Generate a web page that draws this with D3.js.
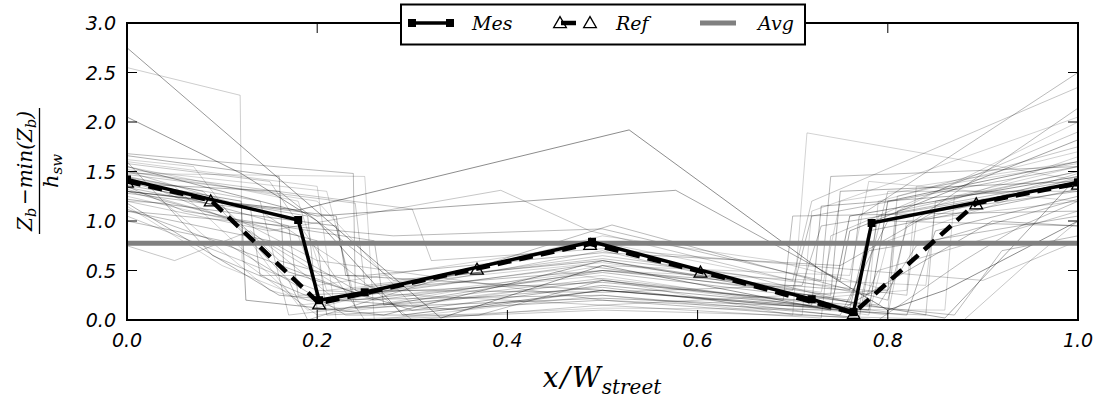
<!DOCTYPE html>
<html><head><meta charset="utf-8">
<script src="https://cdn.jsdelivr.net/npm/d3@7"></script>
<style>html,body{margin:0;padding:0;background:#fff;}svg{display:block;}
.math{font-family:"DejaVu Serif",serif;font-style:italic;}</style>
</head><body>
<svg id="chart" width="1102" height="399"></svg>
<script>
// ---- data ----
const xTicks = [0, 0.2, 0.4, 0.6, 0.8, 1.0];
const yTicks = [0, 0.5, 1.0, 1.5, 2.0, 2.5, 3.0];
const mesX = [0, 0.18, 0.202, 0.25, 0.489, 0.72, 0.764, 0.783, 1.0];
const mesY = [1.42, 1.01, 0.2, 0.28, 0.79, 0.21, 0.08, 0.98, 1.39];
const refX = [0, 0.088, 0.202, 0.368, 0.487, 0.603, 0.764, 0.893, 1.0];
const refY = [1.40, 1.21, 0.17, 0.52, 0.77, 0.49, 0.07, 1.18, 1.38];
const avgValue = 0.775;
const legendLabels = ["Mes", "Ref", "Avg"];
const profiles = [
  [[0,2.75],[0.33,0.02],[0.5,0.55],[0.74,0.1],[0.76,1.05],[1,1.45]],
  [[0,2.55],[0.119,2.27],[0.121,0.6],[0.2,0.05],[0.5,0.4],[0.8,0.05],[0.82,1.0],[1,1.2]],
  [[0,2.05],[0.12,1.48],[0.2,1.0],[0.29,0.05],[0.5,0.3],[0.78,0.1],[0.8,1.2],[1,1.6]],
  [[0,1.68],[0.238,1.48],[0.24,0.3],[0.5,0.5],[0.76,0.3],[0.77,1.05],[1,2.5]],
  [[0,1.66],[0.16,1.45],[0.165,0.5],[0.3,0.1],[0.5,0.35],[0.72,0.15],[0.73,1.15],[1,1.35]],
  [[0,1.3],[0.18,1.11],[0.528,1.92],[0.73,0.5],[0.8,0.1],[0.86,0.3],[1,1.0]],
  [[0,1.2],[0.15,0.9],[0.393,1.31],[0.487,0.9],[0.7,0.4],[0.72,1.2],[1,2.35]],
  [[0,1.55],[0.1,1.3],[0.2,1.05],[0.577,1.31],[0.75,0.4],[0.76,0.9],[1,1.82]],
  [[0,1.45],[0.08,1.3],[0.17,0.4],[0.19,0.0],[0.51,0.96],[0.8,0.2],[0.82,0.95],[1,2.14]],
  [[0,0.75],[0.05,0.6],[0.13,0.9],[0.22,0.2],[0.5,0.7],[0.77,0.1],[0.79,0.5],[1,1.1]],
  [[0,1.15],[0.1,0.55],[0.19,0.2],[0.45,0.5],[0.7,0.05],[0.715,1.89],[1,1.41]],
  [[0,1.6],[0.09,0.65],[0.2,0.2],[0.5,0.25],[0.75,0.05],[0.8,1.0],[1,0.95]],
  [[0,1.4],[0.12,1.2],[0.125,0.2],[0.27,0.05],[0.5,0.6],[0.86,0.02],[0.935,0.78],[1,1.45]],
  [[0,1.3],[0.2,0.8],[0.21,0.05],[0.5,0.2],[0.79,0.0],[0.88,0.6],[0.94,0.95],[1,1.2]],
  [[0,1.5],[0.14,1.1],[0.22,0.6],[0.3,0.0],[0.5,0.15],[0.73,0.02],[0.74,0.85],[1,1.9]],
  [[0,1.35],[0.06,1.1],[0.26,0.8],[0.27,0.15],[0.5,0.5],[0.7,0.3],[0.72,1.05],[1,1.55]],
  [[0,1.25],[0.18,0.85],[0.2,0.35],[0.5,0.78],[0.78,0.25],[0.79,1.2],[1,1.7]],
  [[0,1.18],[0.16,0.25],[0.35,0.1],[0.5,0.3],[0.82,0.05],[0.85,0.9],[1,1.25]],
  [[0,1.45],[0.11,1.0],[0.23,0.3],[0.5,0.65],[0.65,0.45],[0.77,0.15],[0.8,1.3],[1,1.3]],
  [[0,1.1],[0.15,0.8],[0.25,0.25],[0.48,0.55],[0.76,0.2],[0.78,0.7],[1,1.05]],
  [[0,1.58],[0.15,1.4],[0.2,0.7],[0.25,0.0],[0.5,0.1],[0.88,0.0],[0.95,0.6],[1,1.0]],
  [[0,1.5],[0.2,1.2],[0.3,0.15],[0.5,0.4],[0.7,0.2],[0.82,0.3],[0.83,1.35],[1,1.6]],
  [[0,1.42],[0.05,1.35],[0.19,0.1],[0.5,0.85],[0.68,0.6],[0.8,0.3],[0.81,1.1],[1,2.0]],
  [[0,1.0],[0.1,0.8],[0.23,0.05],[0.37,0.05],[0.5,0.4],[0.69,0.2],[0.7,1.05],[1,1.1]],
  [[0,1.3],[0.22,1.05],[0.23,0.45],[0.5,0.3],[0.75,0.1],[0.91,1.0],[1,0.95]],
  [[0,1.5],[0.3,1.12],[0.32,0.6],[0.5,0.72],[0.9,0.4],[1,0.8]],
  [[0,1.2],[0.04,1.18],[0.15,0.3],[0.23,0.1],[0.5,0.55],[0.76,0.45],[0.78,1.4],[1,1.2]],
  [[0,1.1],[0.28,0.85],[0.5,0.92],[0.73,0.4],[0.74,1.45],[1,1.55]],
  [[0,1.4],[0.17,0.95],[0.18,0.25],[0.5,0.38],[0.8,0.12],[0.87,0.05],[0.92,0.7],[1,0.85]],
  [[0,1.32],[0.12,1.0],[0.2,0.6],[0.5,0.2],[0.84,0.05],[0.85,1.2],[1,1.5]],
  [[0,1.62],[0.07,1.55],[0.18,0.15],[0.5,0.45],[0.78,0.05],[0.8,0.8],[1,1.45]],
  [[0,1.38],[0.16,1.3],[0.28,0.4],[0.5,0.6],[0.74,0.25],[0.75,1.3],[1,1.4]],
  [[0,1.05],[0.2,0.3],[0.5,0.15],[0.8,0.3],[0.81,1.25],[1,1.75]],
  [[0,1.48],[0.25,1.45],[0.26,0.0],[0.5,0.25],[0.71,0.05],[0.72,1.1],[1,2.05]],
  [[0,1.28],[0.13,1.12],[0.14,0.45],[0.25,0.45],[0.5,0.68],[0.75,0.55],[0.85,1.1],[1,1.3]],
  [[0,1.52],[0.21,1.3],[0.24,0.2],[0.5,0.5],[0.84,0.35],[0.85,1.15],[1,1.65]],
  [[0,1.36],[0.19,1.05],[0.2,0.1],[0.5,0.33],[0.77,0.02],[0.79,1.05],[1,1.42]],
  [[0,1.44],[0.14,1.2],[0.17,0.05],[0.5,0.42],[0.8,0.08],[0.81,1.1],[1,1.5]],
  [[0,1.22],[0.22,0.95],[0.24,0.12],[0.5,0.22],[0.76,0.12],[0.78,0.9],[1,1.32]],
  [[0,1.55],[0.18,1.2],[0.21,0.3],[0.5,0.58],[0.73,0.28],[0.75,1.2],[1,1.58]],
  [[0,1.12],[0.12,0.7],[0.26,0.2],[0.5,0.48],[0.79,0.15],[0.83,0.75],[1,1.22]],
  [[0,1.47],[0.24,1.18],[0.25,0.35],[0.5,0.62],[0.82,0.25],[0.83,1.0],[1,1.48]],
  [[0,1.34],[0.1,1.15],[0.16,0.6],[0.27,0.3],[0.5,0.28],[0.71,0.35],[0.73,0.95],[1,1.38]],
  [[0,1.6],[0.2,1.35],[0.22,0.0],[0.5,0.12],[0.86,0.1],[0.87,1.25],[1,1.55]]
];
const profileShade = [0.45,0.22,0.45,0.3,0.35,0.5,0.25,0.4,0.3,0.25,0.2,0.3,0.4,0.3,0.25,0.3,0.2,0.35,0.25,0.3,0.25,0.2,0.2,0.3,0.35,0.25,0.2,0.3,0.3,0.25,0.2,0.35,0.25,0.2,0.3,0.2,0.3,0.25,0.35,0.2,0.3,0.25,0.3,0.2];

// ---- layout ----
const L = 127, R = 1078, T = 23, B = 320;
const svg = d3.select("#chart");
const x = d3.scaleLinear().domain([0, 1]).range([L, R]);
const y = d3.scaleLinear().domain([0, 3]).range([B, T]);

svg.append("defs").append("clipPath").attr("id", "clip")
  .append("rect").attr("x", L).attr("y", T).attr("width", R - L).attr("height", B - T);

const plot = svg.append("g").attr("clip-path", "url(#clip)");
const line = d3.line().x(d => x(d[0])).y(d => y(d[1]));

plot.selectAll("path.prof").data(profiles).enter().append("path")
  .attr("class", "prof")
  .attr("d", line)
  .attr("fill", "none")
  .attr("stroke", "#000")
  .attr("stroke-opacity", (d, i) => profileShade[i])
  .attr("stroke-width", 0.9);

plot.append("path")
  .attr("d", line([[0, avgValue], [1, avgValue]]))
  .attr("stroke", "#808080").attr("stroke-width", 5).attr("fill", "none");

const mesPts = mesX.map((v, i) => [v, mesY[i]]);
const refPts = refX.map((v, i) => [v, refY[i]]);

plot.append("path").attr("d", line(refPts))
  .attr("fill", "none").attr("stroke", "#000").attr("stroke-width", 4.5)
  .attr("stroke-dasharray", "14,8");

plot.append("path").attr("d", line(mesPts))
  .attr("fill", "none").attr("stroke", "#000").attr("stroke-width", 3.5).attr("stroke-linejoin", "miter");
plot.selectAll("rect.mes").data(mesPts).enter().append("rect")
  .attr("x", d => x(d[0]) - 4).attr("y", d => y(d[1]) - 4)
  .attr("width", 8).attr("height", 8).attr("fill", "#000");

const tri = d3.symbol().type(d3.symbolTriangle).size(70);
plot.selectAll("path.ref").data(refPts).enter().append("path")
  .attr("d", tri)
  .attr("transform", d => `translate(${x(d[0])},${y(d[1]) + 2})`)
  .attr("fill", "none").attr("stroke", "#000").attr("stroke-width", 1.3);

const tickG = svg.append("g").attr("stroke", "#000").attr("stroke-width", 1);
xTicks.forEach(t => {
  tickG.append("line").attr("x1", x(t)).attr("x2", x(t)).attr("y1", B).attr("y2", B - 10);
  tickG.append("line").attr("x1", x(t)).attr("x2", x(t)).attr("y1", T).attr("y2", T + 10);
});
yTicks.forEach(t => {
  tickG.append("line").attr("x1", L).attr("x2", L + 10).attr("y1", y(t)).attr("y2", y(t));
  tickG.append("line").attr("x1", R).attr("x2", R - 10).attr("y1", y(t)).attr("y2", y(t));
});

svg.append("rect").attr("x", L).attr("y", T).attr("width", R - L).attr("height", B - T)
  .attr("fill", "none").attr("stroke", "#000").attr("stroke-width", 2);

const tickFont = "'DejaVu Sans', sans-serif";
svg.selectAll("text.xt").data(xTicks).enter().append("text")
  .attr("x", d => x(d)).attr("y", 347)
  .attr("text-anchor", "middle")
  .attr("font-family", tickFont).attr("font-style", "italic").attr("font-size", 19)
  .attr("fill", "#000")
  .text(d => d3.format(".1f")(d));
svg.selectAll("text.yt").data(yTicks).enter().append("text")
  .attr("x", 116).attr("y", d => y(d) + 7)
  .attr("text-anchor", "end")
  .attr("font-family", tickFont).attr("font-style", "italic").attr("font-size", 19)
  .attr("fill", "#000")
  .text(d => d3.format(".1f")(d));

const xl = svg.append("text").attr("class", "math").attr("x", 602).attr("y", 387)
  .attr("text-anchor", "middle")
  .attr("font-size", 28).attr("fill", "#000");
xl.append("tspan").text("x");
xl.append("tspan").attr("dx", 2).text("/");
xl.append("tspan").attr("dx", 2).text("W");
xl.append("tspan").attr("font-size", 20).attr("dy", 7).attr("dx", 1).text("street");

const yl = svg.append("g").attr("transform", "translate(0,171) rotate(-90)");
yl.append("line").attr("x1", -63).attr("x2", 63).attr("y1", 39.5).attr("y2", 39.5)
  .attr("stroke", "#000").attr("stroke-width", 1.3);
const num = yl.append("text").attr("class", "math").attr("x", 0).attr("y", 32).attr("text-anchor", "middle")
  .attr("font-size", 21).attr("fill", "#000")
  .attr("textLength", 120).attr("lengthAdjust", "spacingAndGlyphs");
num.append("tspan").text("Z");
num.append("tspan").attr("font-size", 15).attr("dy", 4).text("b");
num.append("tspan").attr("dy", -4).attr("font-style", "normal").attr("dx", 3).text("\u2212");
num.append("tspan").text("min(Z");
num.append("tspan").attr("font-size", 15).attr("dy", 4).text("b");
num.append("tspan").attr("dy", -4).text(")");
const den = yl.append("text").attr("class", "math").attr("x", 0).attr("y", 58).attr("text-anchor", "middle")
  .attr("font-size", 21).attr("fill", "#000");
den.append("tspan").text("h");
den.append("tspan").attr("font-size", 15).attr("dy", 4).text("sw");

const lg = svg.append("g");
lg.append("rect").attr("x", 401).attr("y", 4.5).attr("width", 404).attr("height", 40)
  .attr("fill", "#fff").attr("stroke", "#000").attr("stroke-width", 2);
lg.append("line").attr("x1", 412).attr("x2", 450).attr("y1", 23).attr("y2", 23)
  .attr("stroke", "#000").attr("stroke-width", 3.5);
[412, 450].forEach(px => lg.append("rect").attr("x", px - 4).attr("y", 19).attr("width", 8).attr("height", 8).attr("fill", "#000"));
lg.append("line").attr("x1", 561).attr("x2", 576).attr("y1", 23).attr("y2", 23)
  .attr("stroke", "#000").attr("stroke-width", 4.5);
[560, 590].forEach(px => lg.append("path").attr("d", tri)
  .attr("transform", `translate(${px},24)`).attr("fill", "none").attr("stroke", "#000").attr("stroke-width", 1.3));
lg.append("line").attr("x1", 700).attr("x2", 736).attr("y1", 23).attr("y2", 23)
  .attr("stroke", "#808080").attr("stroke-width", 5);
const legX = [472, 616, 758];
legendLabels.forEach((t, i) => lg.append("text").attr("class", "math").attr("x", legX[i]).attr("y", 30)
  .attr("font-size", 19).attr("fill", "#000").text(t));
</script>
</body></html>
